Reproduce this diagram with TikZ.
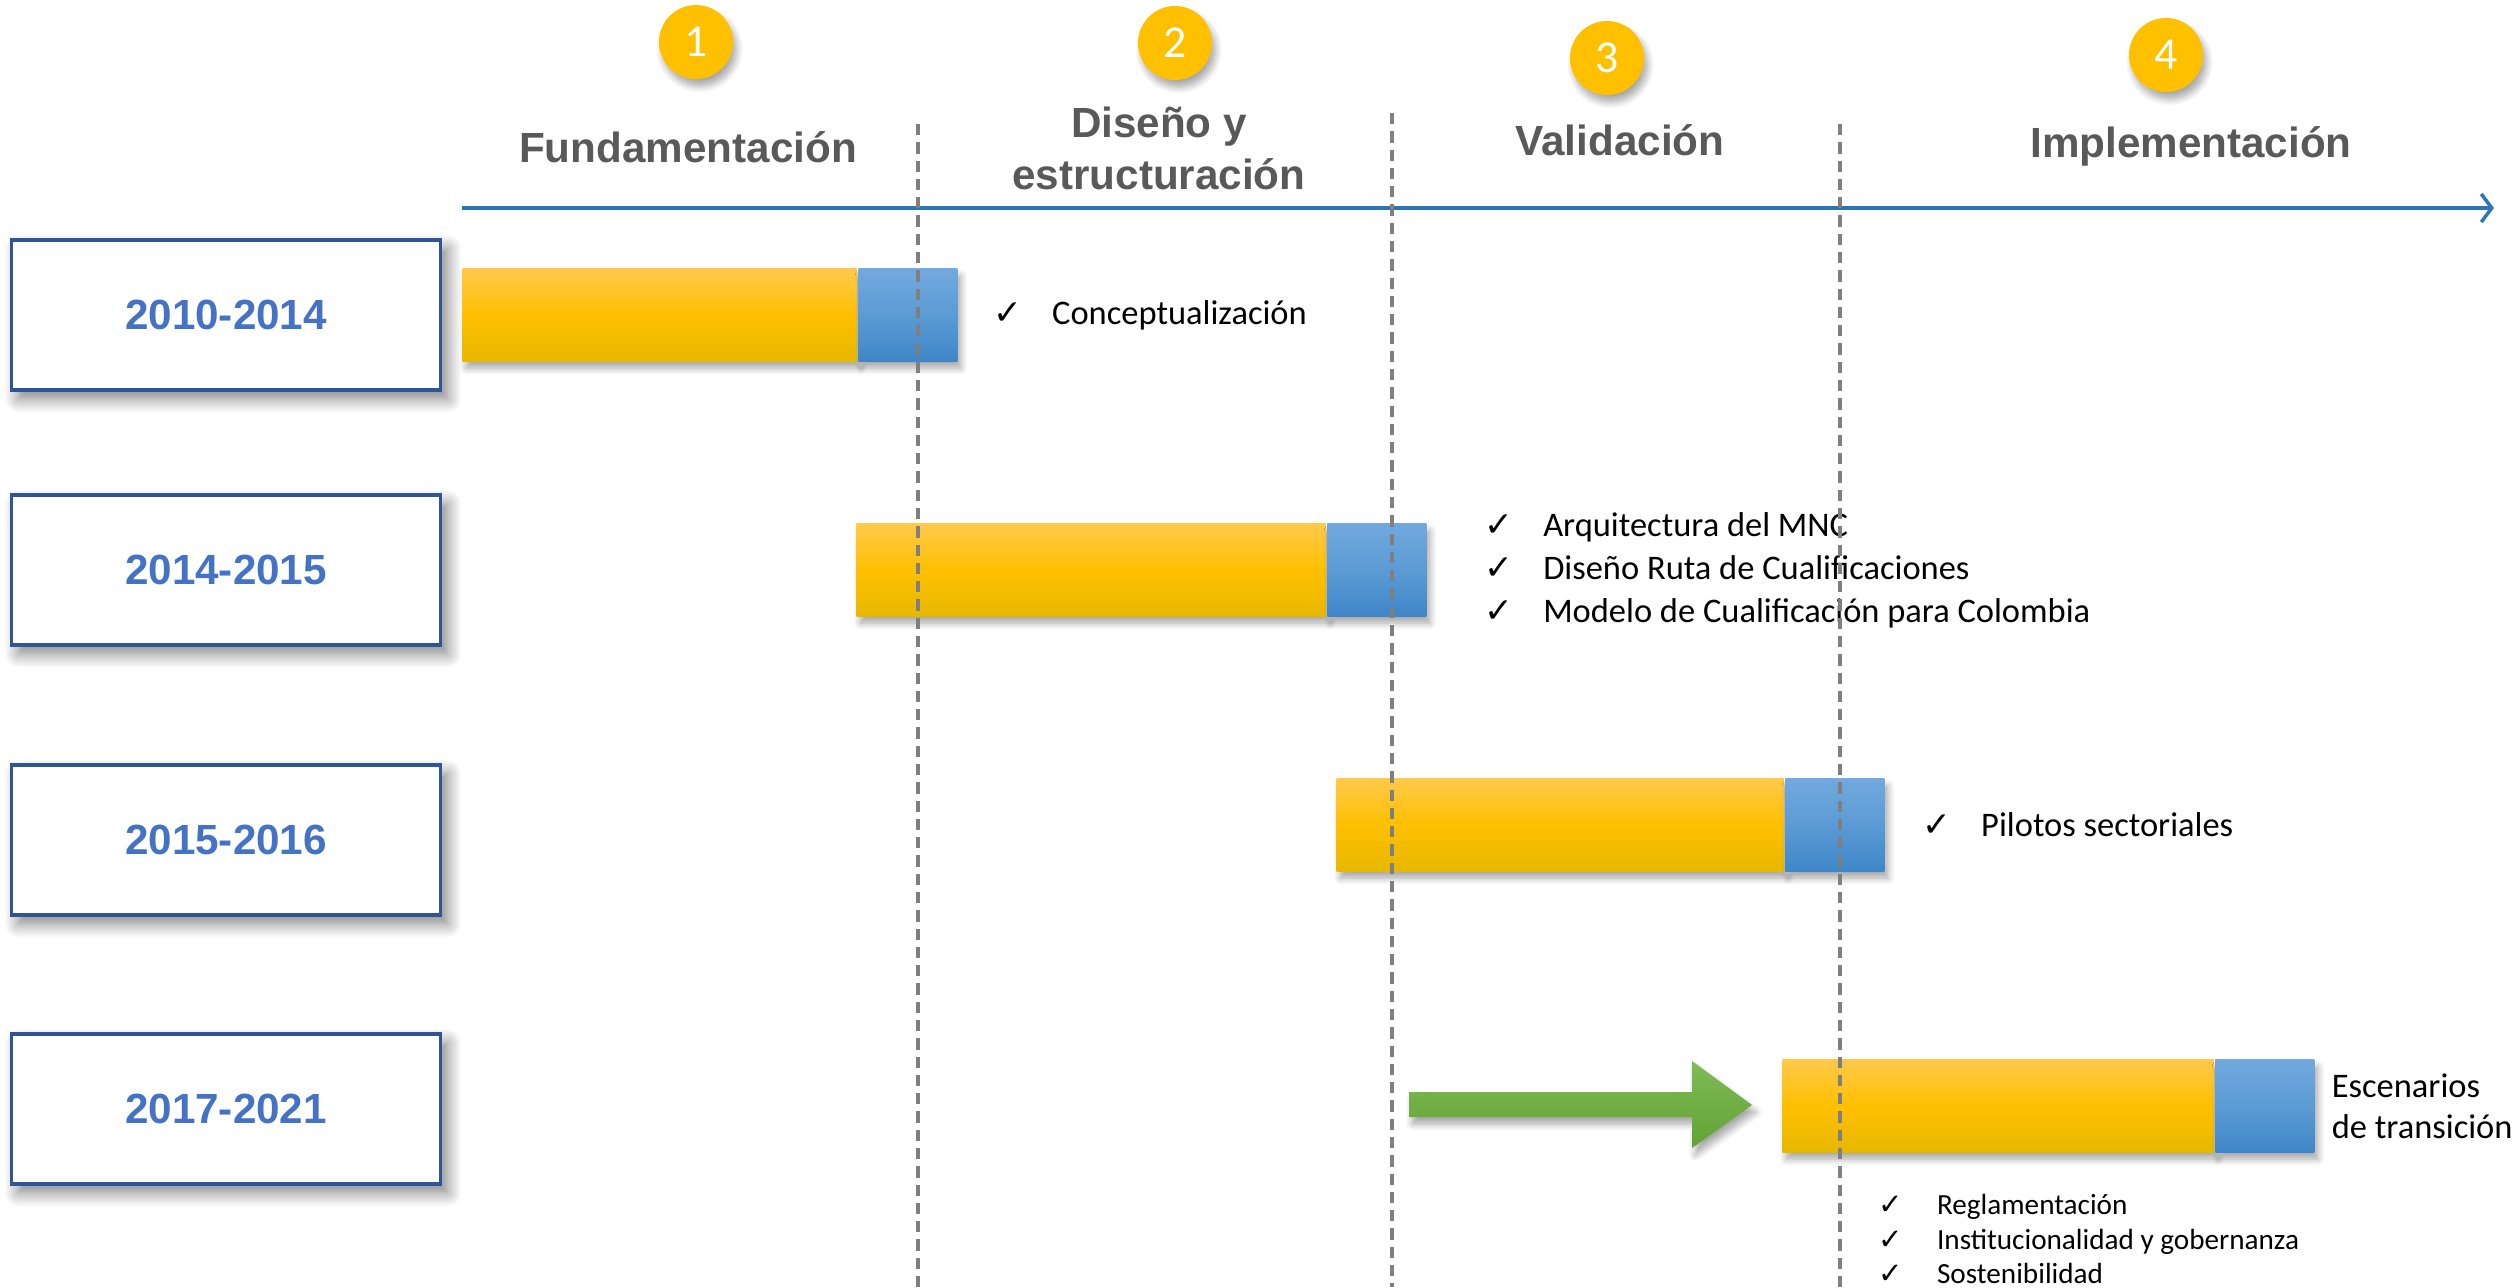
\documentclass[tikz,border=0pt]{standalone}
\usepackage{fontspec}
\setmainfont{Carlito}
\newfontfamily\headfont{Liberation Sans}
\newfontfamily\tickfont{DejaVu Sans}
\usetikzlibrary{positioning,arrows.meta,shadows.blur}
\definecolor{headgray}{HTML}{595959}
\definecolor{yearblue}{HTML}{4472C4}
\definecolor{frameblue}{HTML}{2F5597}
\definecolor{lineblue}{HTML}{2E75B6}
\definecolor{gold}{HTML}{FFC000}
\definecolor{goldtop}{HTML}{FFC94A}
\definecolor{goldbot}{HTML}{E6B800}
\definecolor{bluetop}{HTML}{72A9DE}
\definecolor{bluemid}{HTML}{5B9BD5}
\definecolor{bluebot}{HTML}{3F86C8}
\definecolor{greentop}{HTML}{80BB55}
\definecolor{greenbot}{HTML}{62A236}
\definecolor{dashgray}{HTML}{7F7F7F}
\newcommand{\chk}[1][16.6pt]{\makebox[#1][l]{\tickfont ✓}}
\tikzset{
  soft/.style={blur shadow={shadow xshift=1pt, shadow yshift=-2pt, shadow blur steps=8, shadow opacity=35}},
  yearbox/.style={draw=frameblue, line width=1pt, fill=white, minimum width=4.29cm, minimum height=1.5cm,
    blur shadow={shadow xshift=2pt, shadow yshift=-2.5pt, shadow blur radius=4pt, shadow blur steps=10, shadow opacity=50},
    text=yearblue, font=\headfont\bfseries\fontsize{12}{14}\selectfont},
  phase/.style={text=headgray, align=center, font=\headfont\bfseries\fontsize{12}{14.8}\selectfont},
  badge/.style={circle, fill=gold, inner sep=0pt, minimum size=0.74cm, text=white, soft,
    font=\fontsize{13}{15}\selectfont},
  work/.style={anchor=west, inner sep=0pt, minimum height=0.92cm, top color=goldtop, bottom color=goldbot,
    middle color=gold, soft},
  review/.style={anchor=west, inner sep=0pt, minimum height=0.92cm, minimum width=0.99cm, top color=bluetop,
    bottom color=bluebot, middle color=bluemid, soft},
  done/.style={inner sep=0pt, align=left, font=\fontsize{9.8}{12.2}\selectfont},
  donesmall/.style={inner sep=0pt, align=left, font=\fontsize{8.3}{9.7}\selectfont},
  phaseline/.style={dashgray, line width=0.9pt, dash pattern=on 3.2pt off 2pt}
}
\begin{document}
\begin{tikzpicture}[x=0.01cm, y=-0.01cm]
  \useasboundingbox (0,0) rectangle (2514,1287);
  \coordinate (axisL) at (462,208);
  \coordinate (axisR) at (2494,208);
  \draw[lineblue, line width=1pt, -{Straight Barb[length=3pt,width=8pt]}] (axisL) -- (axisR);

  \node[badge] (n1) at (696,42) {1};
  \node[badge] (n2) at (1175,43) {2};
  \node[badge] (n3) at (1607,58) {3};
  \node[badge] (n4) at (2166,55) {4};
  \node[phase, anchor=base] (p1) at (688,162) {Fundamentación};
  \node[phase] (p2) at (1159,148) {Diseño y\\estructuración};
  \node[phase, anchor=base] (p3) at (1620,155) {Validación};
  \node[phase, anchor=base] (p4) at (2191,157) {Implementación};

  \node[yearbox] (y1) at (226,315) {2010-2014};
  \node[yearbox] (y2) at (226,570) {2014-2015};
  \node[yearbox] (y3) at (226,840) {2015-2016};
  \node[yearbox] (y4) at (226,1109) {2017-2021};

  \node[work, minimum width=3.94cm] (b1) at (462,315) {};
  \node[review] (e1) at (b1.east) {};
  \node[work, minimum width=4.69cm] (b2) at (856,570) {};
  \node[review] (e2) at (b2.east) {};
  \node[work, minimum width=4.47cm] (b3) at (1336,825) {};
  \node[review] (e3) at (b3.east) {};
  \node[work, minimum width=4.31cm] (b4) at (1782,1106) {};
  \node[review] (e4) at (b4.east) {};

  \path[top color=greentop, bottom color=greenbot, soft] (1409,1092) -- (1692,1092) -- (1692,1061)
    -- (1752,1105) -- (1692,1148) -- (1692,1117) -- (1409,1117) -- cycle;

  \node[done, right=0.35cm of e1] (l1) {\chk Conceptualización};
  \node[done, right=0.57cm of e2] (l2) {\chk Arquitectura del MNC\\
    \chk Diseño Ruta de Cualificaciones\\\chk Modelo de Cualificación para Colombia};
  \node[done, right=0.37cm of e3] (l3) {\chk Pilotos sectoriales};
  \node[done, right=0.16cm of e4, font=\fontsize{9.8}{11.7}\selectfont] (l4) {Escenarios\\de transición};
  \node[donesmall, anchor=west] (l5) at (1878,1239) {\chk Reglamentación\\
    \chk Institucionalidad y gobernanza\\\chk Sostenibilidad};

  \foreach \x/\y in {918/124,1392/113,1840/124}
    \draw[phaseline] (\x,\y) -- (\x,1287);
\end{tikzpicture}
\end{document}
